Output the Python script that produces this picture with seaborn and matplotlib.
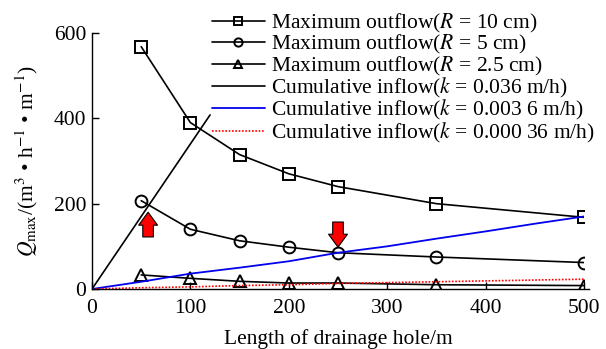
import matplotlib
matplotlib.use("Agg")
import matplotlib.pyplot as plt
import seaborn as sns
import pandas as pd

# ---- data ----
length_pts = [50, 100, 150, 200, 250, 350, 500]
q_r10 = [568, 390, 315, 270, 240, 200, 168]
q_r5 = [207, 140, 113, 98, 85, 75, 62]
q_r25 = [33, 25, 18, 14, 14, 10, 8]

x_k1 = [0, 50, 100, 120]
y_k1 = [0, 170, 340, 408]

x_k2 = [0, 50, 100, 150, 200, 250, 300, 350, 400, 450, 500]
y_k2 = [0, 17, 36, 50, 65, 85, 100, 118, 135, 153, 170]

x_k3 = [0, 50, 100, 150, 200, 250, 300, 350, 400, 450, 500]
y_k3 = [0, 3, 5, 8, 10, 13, 15, 17, 19, 21, 23]

xticks = [0, 100, 200, 300, 400, 500]
yticks = [0, 200, 400, 600]

labels = [r"Maximum outflow($R$ = 10 cm)",
          r"Maximum outflow($R$ = 5 cm)",
          r"Maximum outflow($R$ = 2.5 cm)",
          r"Cumulative inflow($k$ = 0.036 m/h)",
          r"Cumulative inflow($k$ = 0.003 6 m/h)",
          r"Cumulative inflow($k$ = 0.000 36 m/h)"]

sns.set_theme(style="ticks")
plt.rcParams["font.family"] = ["Liberation Serif", "DejaVu Serif"]
plt.rcParams["mathtext.fontset"] = "stix"
plt.rcParams["font.size"] = 15
for k in ["text.color", "axes.labelcolor", "xtick.color", "ytick.color", "axes.edgecolor"]:
    plt.rcParams[k] = "black"

FS = 15.5

fig = plt.figure(figsize=(6.06, 3.49), dpi=100)
ax = fig.add_axes([92 / 606, 1 - 289 / 349, (584 - 92) / 606, 256 / 349])

df10 = pd.DataFrame({"x": length_pts, "y": q_r10})
df5 = pd.DataFrame({"x": length_pts, "y": q_r5})
df25 = pd.DataFrame({"x": length_pts, "y": q_r25})

mk = dict(markersize=8.5, markerfacecolor="none", markeredgecolor="black", markeredgewidth=1.4)
sns.lineplot(data=df10, x="x", y="y", ax=ax, color="black", lw=1.2, marker="s", label=labels[0], **mk)
sns.lineplot(data=df5, x="x", y="y", ax=ax, color="black", lw=1.2, marker="o", label=labels[1], **mk)
sns.lineplot(data=df25, x="x", y="y", ax=ax, color="black", lw=1.2, marker="^", label=labels[2], **mk)
sns.lineplot(x=x_k1, y=y_k1, ax=ax, color="black", lw=1.2, label=labels[3])
sns.lineplot(x=x_k2, y=y_k2, ax=ax, color="#0000ee", lw=1.3, label=labels[4])
sns.lineplot(x=x_k3, y=y_k3, ax=ax, color="red", lw=1.2, ls=(0, (1, 1.0)), label=labels[5])

# arrows
arrow_kw = dict(arrowstyle="simple,head_length=0.55,head_width=0.8,tail_width=0.45",
                fc="red", ec="black", lw=0.8, mutation_scale=17,
                shrinkA=0, shrinkB=0)
ax.annotate("", xy=(57, 180), xytext=(57, 122), arrowprops=arrow_kw)
ax.annotate("", xy=(250, 98), xytext=(250, 157), arrowprops=arrow_kw)

ax.set_xlim(0, 500)
ax.set_ylim(0, 600)
ax.set_xticks(xticks)
ax.set_yticks(yticks)
ax.tick_params(direction="in", length=5, width=1, labelsize=FS, colors="black")
ax.tick_params(axis="x", pad=7)
ax.tick_params(axis="y", pad=4)
for s in ["top", "right"]:
    ax.spines[s].set_visible(False)
for s in ["left", "bottom"]:
    ax.spines[s].set_color("black")
    ax.spines[s].set_linewidth(1)
ax.spines["bottom"].set_bounds(0, 505)
ax.spines["bottom"].set_clip_on(False)

ax.set_xlabel("Length of drainage hole/m", fontsize=FS, labelpad=8)
ax.set_ylabel(r"$Q_{\rm max}$/(m$^3$ • h$^{-1}$ • m$^{-1}$)", fontsize=FS, labelpad=10)

leg = ax.legend(loc="upper left", bbox_to_anchor=(212 / 606, 1 - 12 / 349),
                bbox_transform=fig.transFigure, frameon=False,
                fontsize=FS, handlelength=2.45, labelspacing=-0.08, handletextpad=0.3,
                borderaxespad=0, borderpad=0, markerscale=0.7)

fig.savefig("out.png", dpi=100)
